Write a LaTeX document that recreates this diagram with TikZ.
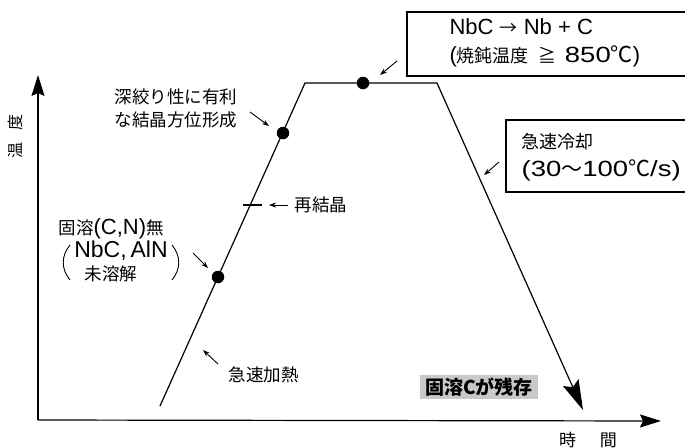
\documentclass[tikz,border=0pt]{standalone}
\usepackage{fontspec}
\setmainfont{Noto Sans CJK JP}
\newfontfamily\lat{Liberation Sans}
\newfontfamily\latx{Liberation Sans}[FakeStretch=1.25]
\usetikzlibrary{arrows.meta}
\newcommand\bigL[1]{{\lat\fontsize{22}{28}\selectfont #1}}
\newcommand\bigD[1]{{\latx\fontsize{22}{28}\selectfont #1}}
\begin{document}
\begin{tikzpicture}[x=1pt,y=-1pt,line width=1.2pt,
  lbl/.style={inner sep=0pt,font=\fontsize{17.5}{23}\selectfont,align=left},
  boxtxt/.style={inner sep=0pt,font=\fontsize{18}{28}\selectfont,align=left},
  ptr/.style={-{Stealth[length=7pt,width=5pt]},line width=0.9pt},
  dot/.style={circle,fill,inner sep=0pt,minimum size=12.5pt},
  axarrow/.style={-{Stealth[length=21pt,width=13pt,inset=3pt]}}]
\useasboundingbox (0,0) rectangle (685,447);
% axes
\coordinate (O) at (38,420);
\coordinate (ytip) at (38,75);
\coordinate (xtip) at (661,421);
\draw[axarrow] (O) -- (ytip);
\draw[axarrow] (O) -- (xtip);
\node[inner sep=0pt,rotate=90,font=\fontsize{16}{16}\selectfont] (ylab) at (15,136) {温\hspace{12pt}度};
\node[inner sep=0pt,font=\fontsize{17}{17}\selectfont] (xlab) at (588,440) {時\hspace{24pt}間};
% process path
\coordinate (h0) at (160,406);
\coordinate (h1) at (305,83);
\coordinate (h2) at (437,83);
\coordinate (h3) at (583,410);
\draw[-{Stealth[length=30pt,width=17pt,inset=5pt]}] (h0) -- (h1) -- (h2) -- (h3);
% dots
\node[dot] (dA) at (283,133) {};
\node[dot] (dB) at (218,277) {};
\node[dot] (dC) at (363,83) {};
% recrystallization tick
\coordinate (t1) at (243,205);
\coordinate (t2) at (262,205);
\draw (t1) -- (t2);
\node[lbl,anchor=west] (rx) at (294,205) {再結晶};
\coordinate (rxs) at (288,205);
\coordinate (rxe) at (269,205);
\draw[ptr] (rxs) -- (rxe);
% deep drawing label
\node[lbl,anchor=west] (dd) at (114,108) {深絞り性に有利\\な結晶方位形成};
\coordinate (dds) at (250,112);
\coordinate (dde) at (269,126);
\draw[ptr] (dds) -- (dde);
% solid solution none label
\node[lbl,anchor=west] (ss) at (58,229) {固溶\bigL{(C,N)}無};
\node[inner sep=0pt,font=\lat\fontsize{23}{23}\selectfont] (nbc) at (121,251) {NbC,\,AlN};
\node[lbl] (mi) at (111,274) {未溶解};
\draw[line width=0.9pt] (70,245) .. controls (61,256) and (61,269) .. (70,280);
\draw[line width=0.9pt] (172,245) .. controls (181,256) and (181,269) .. (172,280);
\coordinate (sss) at (193,253);
\coordinate (sse) at (208,268);
\draw[ptr] (sss) -- (sse);
% rapid heating
\node[lbl,anchor=west] (rh) at (228,375) {急速加熱};
\coordinate (rhs) at (218,364);
\coordinate (rhe) at (203,350);
\draw[ptr] (rhs) -- (rhe);
% box 1
\draw (685,12) -- (407,12) -- (407,76) -- (685,76);
\node[boxtxt,anchor=west] (b1) at (449,43) {\bigL{NbC }→\bigL{\ Nb + C}\\\bigL{(}焼鈍温度\hspace{10pt}≧\hspace{8pt}\bigD{850}{\fontsize{22}{28}\selectfont ℃}\bigL{)}};
\coordinate (b1s) at (397,61);
\coordinate (b1e) at (380,75);
\draw[ptr] (b1s) -- (b1e);
% box 2
\draw (685,120) -- (506,120) -- (506,192) -- (685,192);
\node[boxtxt,anchor=west] (b2) at (521,157) {急速冷却\\\bigD{(30}{\fontsize{21}{28}\selectfont 〜}\bigD{100}{\fontsize{22}{28}\selectfont ℃}\bigD{/s)}};
\coordinate (b2s) at (499,162);
\coordinate (b2e) at (484,175);
\draw[ptr] (b2s) -- (b2e);
% residual C
\node[fill=gray!42,inner sep=2pt,minimum width=118pt,minimum height=24pt,font=\fontsize{19}{19}\selectfont\bfseries] (res) at (479,387) {固溶Cが残存};
\end{tikzpicture}
\end{document}
